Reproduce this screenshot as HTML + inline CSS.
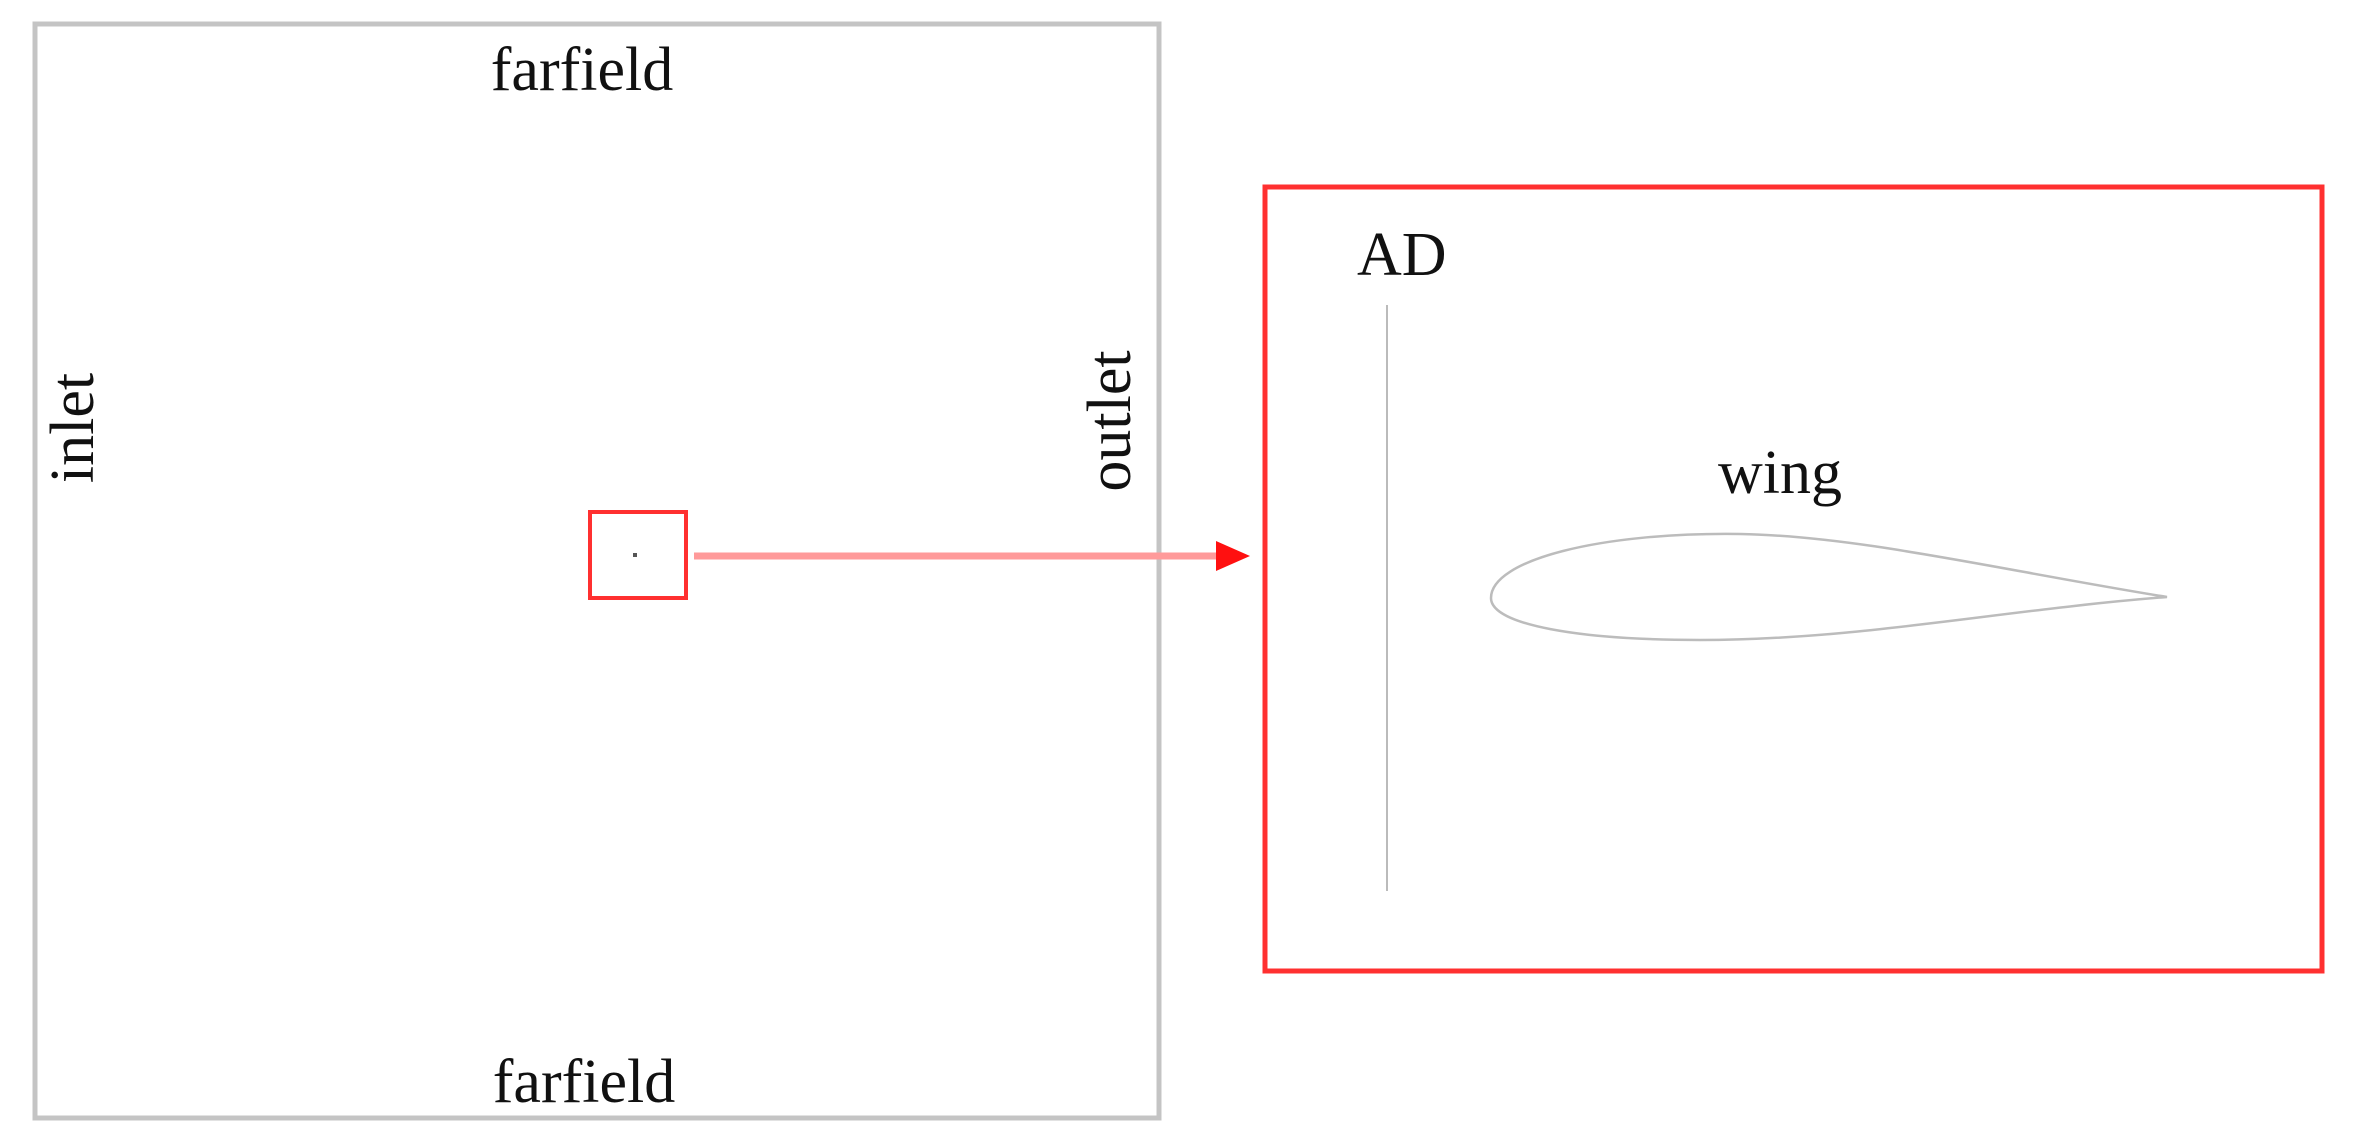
<!DOCTYPE html>
<html><head><meta charset="utf-8"><style>
html,body{margin:0;padding:0;background:#fff;}
svg{display:block;}
text{font-family:"Liberation Serif",serif;fill:#111;}
</style></head><body>
<svg width="2357" height="1148" viewBox="0 0 2357 1148" xmlns="http://www.w3.org/2000/svg">
<rect x="35" y="24" width="1124" height="1094" fill="none" stroke="#c4c4c4" stroke-width="5"/>
<text x="582" y="90" font-size="62" text-anchor="middle">farfield</text>
<text x="584" y="1102" font-size="62" text-anchor="middle">farfield</text>
<text transform="translate(93,428) rotate(-90)" font-size="62" text-anchor="middle">inlet</text>
<text transform="translate(1130,421) rotate(-90)" font-size="62" text-anchor="middle">outlet</text>
<rect x="590" y="512" width="96" height="86" fill="none" stroke="#ff3030" stroke-width="4"/>
<rect x="633" y="553" width="4" height="4" fill="#555"/>
<line x1="694" y1="556" x2="1222" y2="556" stroke="#ff9a9a" stroke-width="7"/>
<polygon points="1216,541 1250,556 1216,571" fill="#ff1010"/>
<rect x="1265" y="187" width="1057" height="784" fill="none" stroke="#ff3030" stroke-width="5"/>
<text x="1357" y="275" font-size="62">AD</text>
<line x1="1387" y1="305" x2="1387" y2="891" stroke="#bbb" stroke-width="2"/>
<text x="1780" y="493" font-size="62" text-anchor="middle">wing</text>
<path d="M1491,598 C1491,560 1600,532 1740,534 C1860,536 2000,570 2167,597 C2000,610 1860,640 1700,640 C1580,640 1491,625 1491,598 Z" fill="none" stroke="#bcbcbc" stroke-width="2.5"/>
</svg>
</body></html>
